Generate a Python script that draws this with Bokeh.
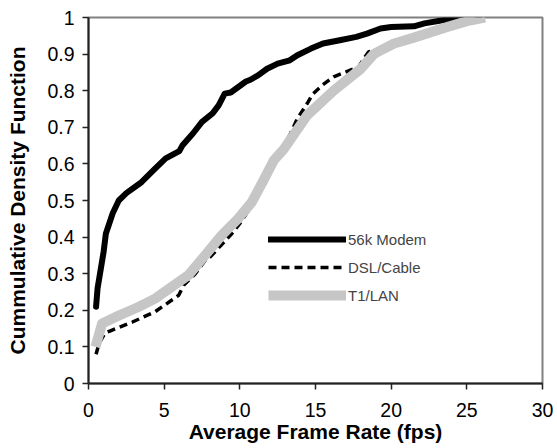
from bokeh.plotting import figure
from bokeh.models import Legend, LegendItem, FixedTicker, Range1d
from bokeh.embed import file_html
from bokeh.resources import INLINE

# ---- data ----
modem_x = [0.5, 0.6, 0.8, 1.0, 1.15, 1.6, 2.0, 2.5, 3.5, 4.4, 5.1, 6.0, 6.2, 6.9, 7.5, 8.2,
           8.6, 9.0, 9.4, 9.9, 10.4, 10.7, 11.2, 11.8, 12.5, 13.3, 13.8, 14.7, 15.5, 16.6,
           17.7, 18.4, 19.3, 20.0, 21.5, 22.2, 23.5, 24.6]
modem_y = [0.21, 0.26, 0.31, 0.36, 0.41, 0.465, 0.50, 0.52, 0.55, 0.587, 0.615, 0.635, 0.65,
           0.683, 0.715, 0.738, 0.76, 0.792, 0.795, 0.81, 0.825, 0.83, 0.842, 0.86, 0.874,
           0.883, 0.897, 0.915, 0.929, 0.938, 0.947, 0.956, 0.97, 0.974, 0.976, 0.984, 0.993, 1.0]

dsl_x = [0.5, 0.7, 1.1, 1.45, 2.9, 4.4, 5.96, 6.3, 7.06, 7.72, 8.05, 9.48, 10.03, 11.0, 11.7,
         12.25, 12.58, 13.35, 13.8, 14.45, 14.8, 15.45, 16.2, 17.3, 17.85, 18.2, 18.5, 19.3,
         20.2, 21.5, 23.7, 25.0, 26.0]
dsl_y = [0.08, 0.11, 0.138, 0.144, 0.168, 0.196, 0.241, 0.269, 0.30, 0.337, 0.346, 0.41, 0.439,
         0.50, 0.55, 0.596, 0.624, 0.683, 0.724, 0.765, 0.79, 0.815, 0.838, 0.856, 0.865, 0.888,
         0.906, 0.915, 0.929, 0.945, 0.974, 0.99, 1.0]

lan_x = [0.46, 0.9, 1.8, 3.3, 4.4, 5.5, 6.6, 7.7, 8.8, 9.9, 10.8, 11.5, 12.25, 12.9, 14.45,
         16.2, 18.0, 18.85, 19.3, 20.2, 21.5, 23.7, 25.0, 26.2]
lan_y = [0.10, 0.164, 0.182, 0.209, 0.232, 0.264, 0.296, 0.35, 0.405, 0.451, 0.496, 0.55, 0.61,
         0.64, 0.733, 0.80, 0.86, 0.90, 0.91, 0.929, 0.945, 0.974, 0.99, 1.0]

x_ticks = [0, 5, 10, 15, 20, 25, 30]
y_ticks = [0, 0.1, 0.2, 0.3, 0.4, 0.5, 0.6, 0.7, 0.8, 0.9, 1]
y_tick_labels = ["0", "0.1", "0.2", "0.3", "0.4", "0.5", "0.6", "0.7", "0.8", "0.9", "1"]

series_names = ["56k Modem", "DSL/Cable", "T1/LAN"]

FONT = "Liberation Sans"

p = figure(width=557, height=448, x_range=Range1d(0, 30), y_range=Range1d(0, 1),
           output_backend="svg", toolbar_location=None,
           min_border_left=88, min_border_top=17, min_border_right=15, min_border_bottom=65)

p.background_fill_color = "white"
p.border_fill_color = "white"
p.outline_line_color = "#808080"
p.outline_line_width = 2
p.xgrid.visible = False
p.ygrid.visible = False

r_modem = p.line(modem_x, modem_y, line_color="black", line_width=6, line_join="round", line_cap="round")
r_dsl = p.line(dsl_x, dsl_y, line_color="black", line_width=3.5, line_dash="8 5")
r_lan = p.line(lan_x, lan_y, line_color="#c6c6c6", line_width=10, line_join="round")

for ax in (p.xaxis[0], p.yaxis[0]):
    ax.axis_line_color = "#222222"
    ax.axis_line_width = 2
    ax.major_tick_line_color = "#222222"
    ax.major_tick_line_width = 1.5
    ax.major_tick_out = 6
    ax.major_tick_in = 0
    ax.minor_tick_out = 0
    ax.minor_tick_in = 0
    ax.major_label_text_font = FONT
    ax.major_label_text_font_size = "19.5px"
    ax.major_label_text_color = "black"
    ax.axis_label_text_font = FONT
    ax.axis_label_text_font_size = "21px"
    ax.axis_label_text_font_style = "bold"
    ax.axis_label_text_color = "black"

p.xaxis.ticker = FixedTicker(ticks=x_ticks)
p.yaxis.ticker = FixedTicker(ticks=y_ticks)
p.yaxis.major_label_overrides = {t: l for t, l in zip(y_ticks, y_tick_labels)}
p.xaxis.major_label_standoff = 13
p.yaxis.major_label_standoff = 8
p.xaxis.axis_label = "Average Frame Rate (fps)"
p.yaxis.axis_label = "Cummulative Density Function"
p.xaxis.axis_label_standoff = 0
p.yaxis.axis_label_standoff = 15

legend = Legend(items=[LegendItem(label=series_names[0], renderers=[r_modem]),
                       LegendItem(label=series_names[1], renderers=[r_dsl]),
                       LegendItem(label=series_names[2], renderers=[r_lan])],
                location=(180, 78), orientation="vertical",
                border_line_color=None, background_fill_alpha=0,
                padding=0, margin=0, spacing=8,
                glyph_width=78, glyph_height=20, label_height=20, label_standoff=2,
                label_text_font=FONT, label_text_font_size="15px")
p.add_layout(legend)

open("out.html", "w").write(file_html(p, INLINE))
